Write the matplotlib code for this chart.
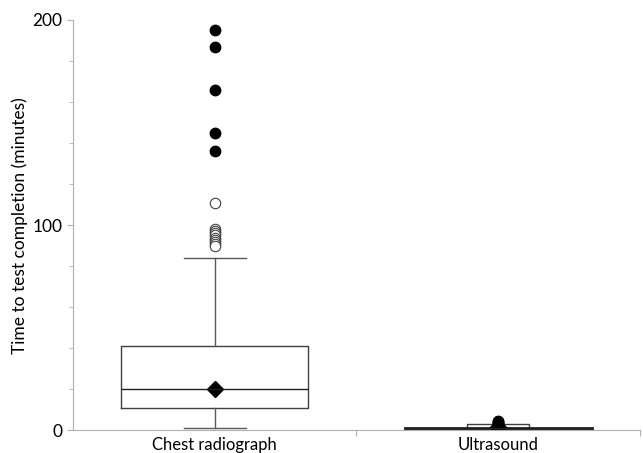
import matplotlib
matplotlib.use('Agg')
from matplotlib import pyplot as plt

# values (minutes)
groups = ['Chest radiograph', 'Ultrasound']
whislo = [1, 0.3]
q1 = [11, 0.3]
med = [20, 1]
q3 = [41, 3]
whishi = [84, 1.2]
means = [20, 1.5]
open_fliers = [[111, 98, 97, 96, 95, 94, 93, 92, 91, 90], []]
filled_fliers = [[195, 187, 166, 145, 136], [4.5, 4, 3.5, 3]]

plt.rcParams['font.family'] = ['Lato', 'DejaVu Sans']

fig = plt.figure(figsize=(6.43, 4.53), dpi=100)
ax = fig.add_axes([0.1135, 0.0497, 0.8815, 0.9063])

stats = []
for i, g in enumerate(groups):
    stats.append(dict(label=g, whislo=whislo[i], q1=q1[i], med=med[i],
                      q3=q3[i], whishi=whishi[i], fliers=[]))

parts = ax.bxp(stats, positions=[1, 2], widths=[0.66, 0.22], capwidths=[0.22, 0.66],
               showfliers=False,
               boxprops=dict(color='#404040', lw=1),
               medianprops=dict(color='#202020', lw=1),
               whiskerprops=dict(color='#595959', lw=1),
               capprops=dict(color='#595959', lw=1))

# ultrasound caps look heavy in the reference
for cap in parts['caps'][2:]:
    cap.set_color('#202020')
    cap.set_linewidth(2)

for i in range(len(groups)):
    x = i + 1
    if open_fliers[i]:
        ax.plot([x] * len(open_fliers[i]), open_fliers[i], 'o', ms=7.5,
                mfc='white', mec='#404040', mew=0.8)
    ax.plot([x] * len(filled_fliers[i]), filled_fliers[i], 'o', ms=7.5,
            mfc='black', mec='black')
    ax.plot([x], [means[i]], 'D', ms=8, color='black')

ax.set_xlim(0.5, 2.5)
ax.set_ylim(0, 200)
ax.set_yticks([0, 100, 200])
ax.set_yticks(range(0, 201, 20), minor=True)
ax.set_xticks([1.5, 2.5])
ax.set_xticklabels(['', ''])
ax.set_xticks([1, 2], minor=True)
ax.set_xticklabels(groups, minor=True)
ax.tick_params(axis='x', which='minor', length=0, labelsize=12, pad=5)
ax.tick_params(axis='x', which='major', length=4, color='#b0b0b0', direction='out')
ax.tick_params(axis='y', which='both', length=4, color='#b0b0b0', labelsize=12.5)
ax.tick_params(axis='y', which='minor', length=3)

for s in ['top', 'right']:
    ax.spines[s].set_visible(False)
for s in ['left', 'bottom']:
    ax.spines[s].set_color('#b0b0b0')

ax.set_ylabel('Time to test completion (minutes)', fontsize=12.5, labelpad=3)

fig.savefig('out.png', dpi=100)
